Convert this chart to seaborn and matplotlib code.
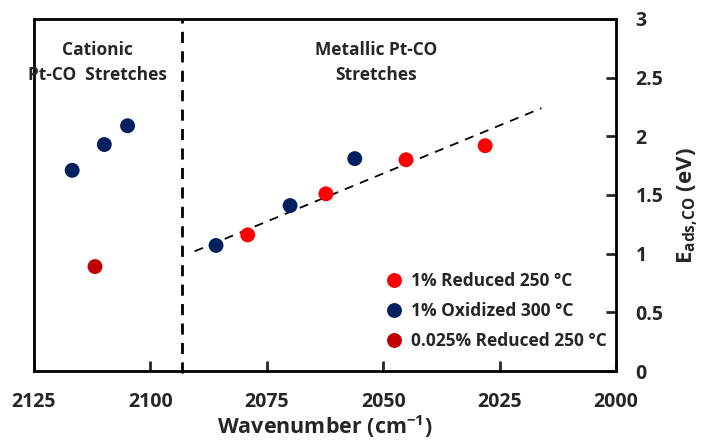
import numpy as np
import pandas as pd
import matplotlib
matplotlib.use('Agg')
import matplotlib.pyplot as plt
import seaborn as sns

sns.set_style('white')
plt.rcParams['font.family'] = ['Open Sans', 'DejaVu Sans']
plt.rcParams['font.weight'] = 'bold'
plt.rcParams['mathtext.fontset'] = 'custom'
plt.rcParams['mathtext.rm'] = 'Open Sans:bold'
plt.rcParams['mathtext.bf'] = 'Open Sans:bold'
plt.rcParams['mathtext.it'] = 'Open Sans:bold'

# data
red_x = [2079.1, 2062.3, 2045.1, 2028.1]
red_y = [1.16, 1.51, 1.80, 1.92]
navy_x = [2116.8, 2109.9, 2104.9, 2085.9, 2070.0, 2056.1]
navy_y = [1.71, 1.93, 2.09, 1.07, 1.41, 1.81]
dred_x = [2111.9]
dred_y = [0.89]
trend_x = [2090.5, 2016.0]
trend_y = [1.02, 2.24]
divider_x = 2093.3

labels = ['1% Reduced 250 °C', '1% Oxidized 300 °C', '0.025% Reduced 250 °C']
colors = ['#FF0000', '#002060', '#C00000']

df = pd.DataFrame({
    'wn': red_x + navy_x + dred_x,
    'E': red_y + navy_y + dred_y,
    'sample': [labels[0]] * len(red_x) + [labels[1]] * len(navy_x) + [labels[2]] * len(dred_x),
})

fig = plt.figure(figsize=(7.01, 4.41), dpi=100)
ax = fig.add_axes([0.0485, 0.1587, 0.8302, 0.7983])

ax.axvline(divider_x, color='black', lw=2, ls=(0, (4, 3)), ymin=-0.006, clip_on=False)
ax.plot(trend_x, trend_y, color='black', lw=1.3, ls=(0, (5, 4)))

sns.scatterplot(data=df, x='wn', y='E', hue='sample', palette=dict(zip(labels, colors)),
                hue_order=labels, s=115, linewidth=0, ax=ax, zorder=3)

ax.set_xlim(2125, 2000)
ax.set_ylim(0, 3)
ax.set_xticks([2125, 2100, 2075, 2050, 2025, 2000])
ax.set_yticks([0, 0.5, 1, 1.5, 2, 2.5, 3])
ax.set_yticklabels(['0', '0.5', '1', '1.5', '2', '2.5', '3'])
ax.yaxis.tick_right()
ax.yaxis.set_label_position('right')
ax.tick_params(axis='x', direction='in', length=7, width=2, labelsize=14, pad=15, bottom=True)
ax.tick_params(axis='y', direction='in', length=7, width=2, labelsize=14, pad=14, right=True, left=False)
for lab in ax.get_xticklabels() + ax.get_yticklabels():
    lab.set_fontweight('bold')
for s in ax.spines.values():
    s.set_linewidth(2)
    s.set_color('black')

ax.set_xlabel('Wavenumber (cm$^{-1}$)', fontsize=15.5, fontweight='bold', labelpad=1)
ax.set_ylabel('E$_{ads{,}CO}$ (eV)', fontsize=16, fontweight='bold')
ax.yaxis.set_label_coords(1.103, 0.47)

ax.text(2111.3, 2.63, 'Cationic\nPt-CO  Stretches', ha='center', va='center', fontsize=12.5,
        fontweight='bold', linespacing=1.5)
ax.text(2051.5, 2.63, 'Metallic Pt-CO\nStretches', ha='center', va='center', fontsize=12.5,
        fontweight='bold', linespacing=1.5)

ax.legend(loc='lower right', bbox_to_anchor=(1.0, 0.035), frameon=False,
          prop={'size': 12.5, 'weight': 'bold'},
          handletextpad=0.0, labelspacing=0.7, markerscale=1.0, borderaxespad=0.1)

fig.savefig('out.png', dpi=100)
